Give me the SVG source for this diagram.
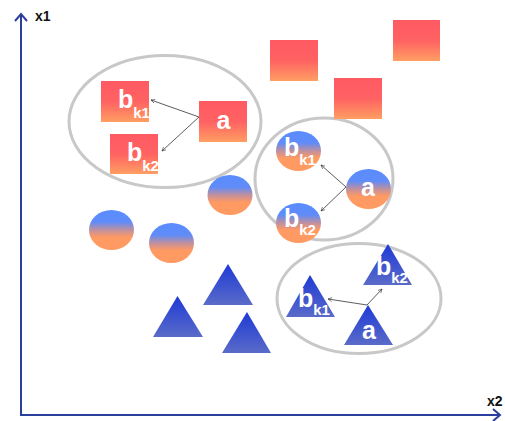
<svg xmlns="http://www.w3.org/2000/svg" width="505" height="421" viewBox="0 0 505 421">
<defs>
<linearGradient id="gSq" x1="0" y1="0" x2="0" y2="1">
<stop offset="0" stop-color="#ff5a63"/>
<stop offset="0.5" stop-color="#ff6262"/>
<stop offset="1" stop-color="#ff9e63"/>
</linearGradient>
<linearGradient id="gCi" x1="0" y1="0" x2="0" y2="1">
<stop offset="0" stop-color="#5a8cff"/>
<stop offset="0.3" stop-color="#5f8cf8"/>
<stop offset="0.5" stop-color="#c0909e"/>
<stop offset="0.68" stop-color="#ff9a63"/>
<stop offset="1" stop-color="#ff9a63"/>
</linearGradient>
<linearGradient id="gTr" x1="0" y1="0" x2="0" y2="1">
<stop offset="0" stop-color="#1e3ad6"/>
<stop offset="1" stop-color="#5a6bc8"/>
</linearGradient>
<marker id="ah" viewBox="0 0 10 10" refX="9" refY="5" markerWidth="6" markerHeight="6" orient="auto">
<path d="M1,1 L9,5 L1,9" fill="none" stroke="#333" stroke-width="1.2"/>
</marker>
</defs>
<style>
.ax{stroke:#2b3f9c;stroke-width:2;fill:none}
.axl{font-family:"Liberation Sans",Arial,sans-serif;font-weight:bold;font-size:14px;fill:#111}
.grp{fill:none;stroke:#c8c8c8;stroke-width:3}
.sq{fill:url(#gSq)}
.ci{fill:url(#gCi)}
.tr{fill:url(#gTr)}
.lb{font-family:"Liberation Sans",Arial,sans-serif;font-weight:bold;font-size:25px;fill:#fff}
.sb{font-size:15px}
.cn{stroke:#333;stroke-width:0.8;fill:none}
</style>
<g id="axes">
<line class="ax" x1="21" y1="415" x2="21" y2="14"/>
<path class="ax" d="M15,21 L21,14 L27,21"/>
<line class="ax" x1="20" y1="415" x2="499" y2="415"/>
<path class="ax" d="M493,409 L500,415 L493,421"/>
<text class="axl" x="35" y="21">x1</text>
<text class="axl" x="487" y="406">x2</text>
</g>
<g id="groups">
<ellipse class="grp" cx="165" cy="121.5" rx="96" ry="66"/>
<ellipse class="grp" cx="324" cy="179" rx="69" ry="61"/>
<ellipse class="grp" cx="359" cy="298.5" rx="82" ry="55"/>
</g>
<g id="sq-bk1"><rect class="sq" x="101" y="81" width="48" height="41"/><text class="lb" x="118" y="108">b<tspan class="sb" dy="10">k1</tspan></text></g>
<g id="sq-bk2"><rect class="sq" x="110" y="134" width="48" height="40"/><text class="lb" x="127" y="161">b<tspan class="sb" dy="10">k2</tspan></text></g>
<g id="sq-a"><rect class="sq" x="199" y="101" width="48" height="41"/><text class="lb" x="216.5" y="129">a</text></g>
<g id="sq-1"><rect class="sq" x="270" y="40" width="48" height="41"/></g>
<g id="sq-2"><rect class="sq" x="334" y="78" width="48" height="41"/></g>
<g id="sq-3"><rect class="sq" x="393" y="20" width="47" height="41"/></g>
<g id="ci-bk1"><ellipse class="ci" cx="298.5" cy="151" rx="22.5" ry="20"/><text class="lb" x="284" y="156">b<tspan class="sb" dy="9">k1</tspan></text></g>
<g id="ci-bk2"><ellipse class="ci" cx="298.5" cy="223" rx="22.5" ry="20"/><text class="lb" x="284" y="227">b<tspan class="sb" dy="8">k2</tspan></text></g>
<g id="ci-a"><ellipse class="ci" cx="368.5" cy="189" rx="22.5" ry="20"/><text class="lb" x="361" y="196">a</text></g>
<g id="ci-1"><ellipse class="ci" cx="111.5" cy="230" rx="22.5" ry="20"/></g>
<g id="ci-2"><ellipse class="ci" cx="171.5" cy="243" rx="22.5" ry="20"/></g>
<g id="ci-3"><ellipse class="ci" cx="230" cy="195" rx="22.5" ry="20"/></g>
<g id="tr-1"><polygon class="tr" points="177.5,296 153,337 203,337"/></g>
<g id="tr-2"><polygon class="tr" points="228,264 203,305 253,305"/></g>
<g id="tr-3"><polygon class="tr" points="247,312 222,353 271,353"/></g>
<g id="tr-bk1"><polygon class="tr" points="310,275 286,317 335,317"/><text class="lb" x="298" y="307">b<tspan class="sb" dy="8">k1</tspan></text></g>
<g id="tr-bk2"><polygon class="tr" points="388,244 363,285 412,285"/><text class="lb" x="376" y="275">b<tspan class="sb" dy="8">k2</tspan></text></g>
<g id="tr-a"><polygon class="tr" points="368,305 344,345 393,345"/><text class="lb" x="362" y="339">a</text></g>
<g id="connectors">
<line class="cn" x1="199" y1="117" x2="151" y2="100" marker-end="url(#ah)"/>
<line class="cn" x1="199" y1="117" x2="162" y2="151" marker-end="url(#ah)"/>
<line class="cn" x1="346" y1="187" x2="321" y2="165" marker-end="url(#ah)"/>
<line class="cn" x1="346" y1="187" x2="321" y2="211" marker-end="url(#ah)"/>
<line class="cn" x1="367" y1="305" x2="328" y2="299" marker-end="url(#ah)"/>
<line class="cn" x1="367" y1="305" x2="382" y2="289" marker-end="url(#ah)"/>
</g>
</svg>
